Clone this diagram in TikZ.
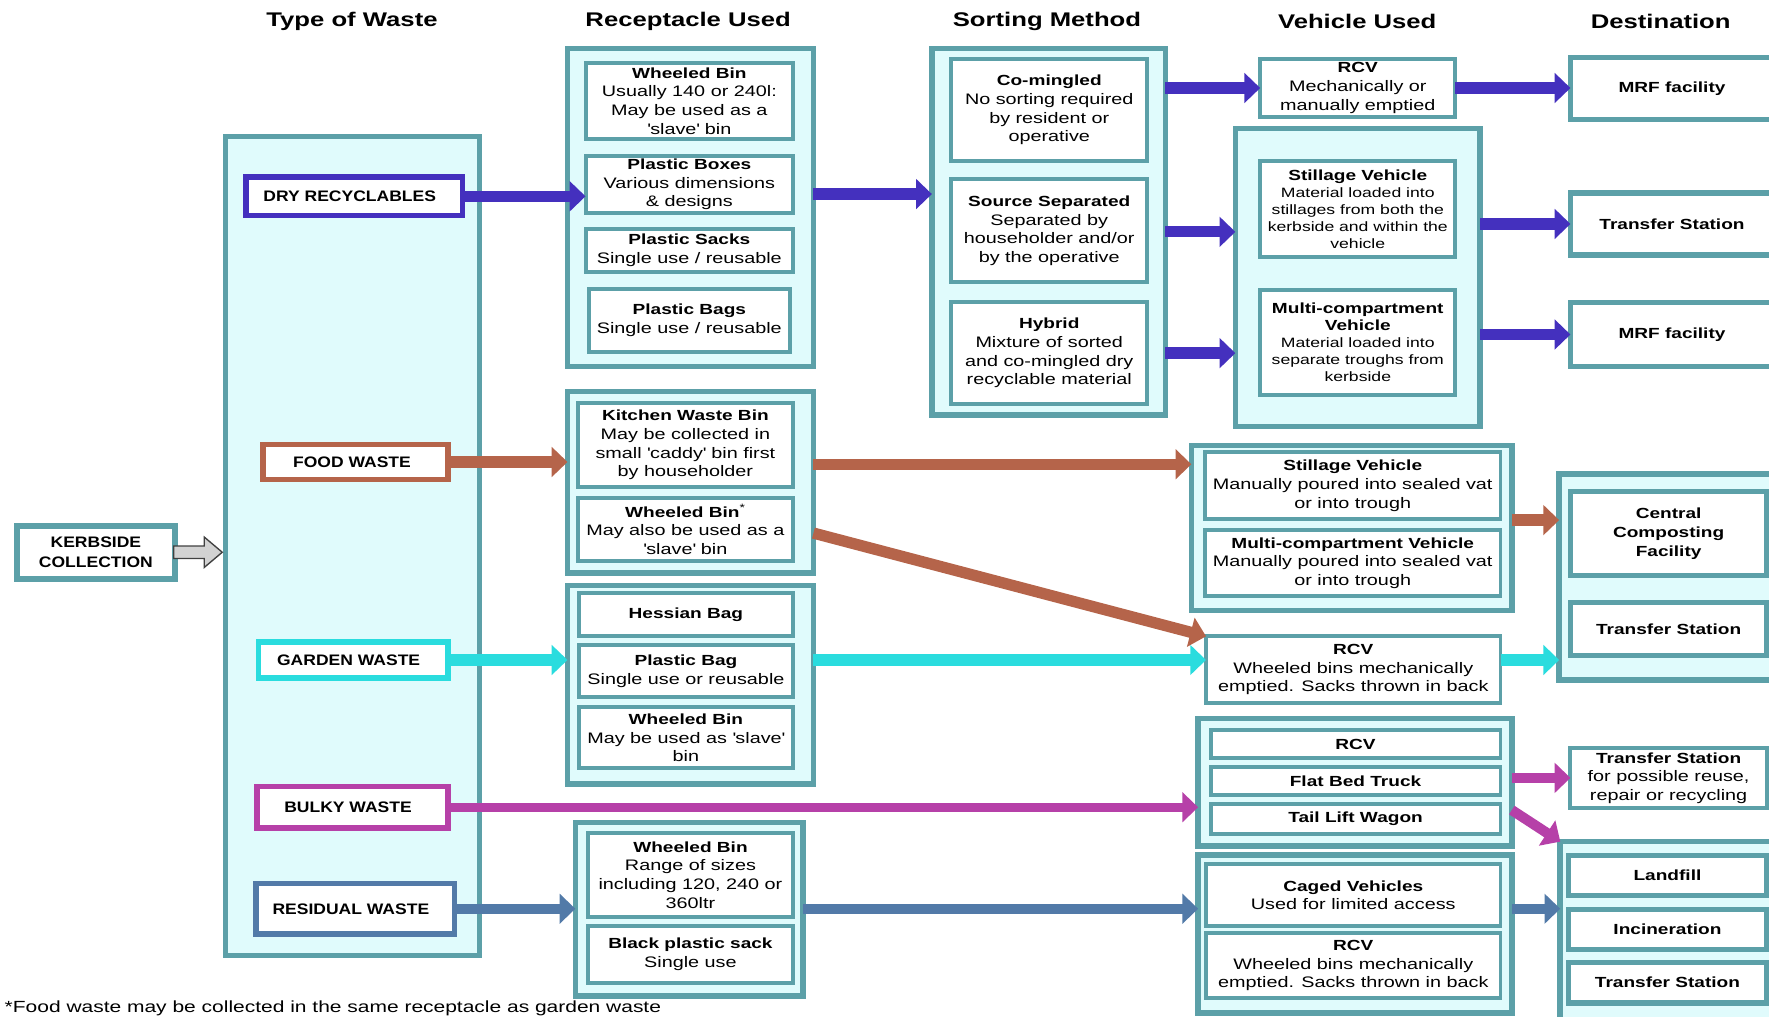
\documentclass[tikz,border=0pt]{standalone}
\usepackage{fontspec}
\setmainfont{Liberation Sans}[FakeStretch=1.3]
\newfontfamily\lblfamily{Liberation Sans}[FakeStretch=1.15]
\usetikzlibrary{arrows.meta}

\definecolor{frame}{RGB}{92,160,168}
\definecolor{panel}{RGB}{224,251,252}
\definecolor{dryc}{RGB}{68,48,190}
\definecolor{foodc}{RGB}{181,100,74}
\definecolor{gardc}{RGB}{42,220,222}
\definecolor{bulkc}{RGB}{182,64,168}
\definecolor{resc}{RGB}{82,122,168}

\newcommand{\desc}{\fontsize{13.5}{16.5}\selectfont}
\newcommand{\notefont}{\fontsize{14.3}{17}\selectfont}
\newcommand{\smalldesc}{\fontsize{12}{15}\selectfont}
\newcommand{\lbl}{\lblfamily\fontsize{13.5}{17}\selectfont\bfseries}
\newcommand{\hdr}{\fontsize{17.5}{20}\selectfont\bfseries}
\newcommand{\ttl}[1]{{\fontsize{13}{16.5}\selectfont\bfseries #1}}
\newcommand{\sq}{\textquotesingle}

% box from its corners (x1,y1)-(x2,y2), y measured downwards
\newcommand{\bx}[7]{%
  \pgfmathsetmacro\bxw{#5-#3}%
  \pgfmathsetmacro\bxh{#6-#4}%
  \pgfmathsetmacro\bxcx{(#3+#5)/2}%
  \pgfmathsetmacro\bxcy{-(#4+#6)/2}%
  \node[#1, minimum width=\bxw pt, minimum height=\bxh pt] (#2) at (\bxcx,\bxcy) {#7};}

\tikzset{
  grp/.style={draw=frame, line width=5pt, fill=panel, inner sep=0pt, outer sep=0pt},
  inbox/.style={draw=frame, line width=3.5pt, fill=white, inner sep=0pt, outer sep=0pt, align=center, font=\desc},
  dbox/.style={inbox, line width=5pt},
  wlabel/.style={line width=5pt, fill=white, inner sep=0pt, outer sep=0pt, align=center, font=\lbl},
  heading/.style={font=\hdr, inner sep=0pt},
  flow/.style={line width=10pt, -{Triangle[length=14pt,width=26pt]}},
}

\begin{document}
\begin{tikzpicture}[x=1pt,y=1pt]
\useasboundingbox (0,0) rectangle (1568,-901);
\clip (0,0) rectangle (1568,-901);

% column headings
\node[heading] (hType) at (312,-19) {Type of Waste};
\node[heading] (hRec)  at (610,-19) {Receptacle Used};
\node[heading] (hSort) at (928,-19) {Sorting Method};
\node[heading] (hVeh)  at (1203,-19) {Vehicle Used};
\node[heading] (hDest) at (1472,-19) {Destination};

% kerbside and waste types
\bx{wlabel, draw=frame}{kerb}{15}{466}{155}{513}{KERBSIDE\\COLLECTION}
\bx{grp}{types}{200}{121}{425}{847}{}
\bx{wlabel, draw=dryc}{dry}{218}{157}{410}{191}{DRY RECYCLABLES\hspace*{8pt}}
\bx{wlabel, draw=foodc}{food}{233}{394}{397}{425}{FOOD WASTE\hspace*{6pt}}
\bx{wlabel, draw=gardc}{garden}{229}{569}{397}{601}{GARDEN WASTE\hspace*{8pt}}
\bx{wlabel, draw=bulkc}{bulky}{228}{697}{397}{734}{BULKY WASTE\hspace*{8pt}}
\bx{wlabel, draw=resc}{resid}{227}{783}{403}{828}{RESIDUAL WASTE\hspace*{8pt}}

% receptacles
\bx{grp}{rg1}{503}{43}{721}{325}{}
\bx{inbox}{r1a}{519}{56}{703}{123}{\ttl{Wheeled Bin}\\Usually 140 or 240l:\\May be used as a\\\sq slave\sq{} bin}
\bx{inbox}{r1b}{519}{138}{703}{189}{\ttl{Plastic Boxes}\\Various dimensions\\\& designs}
\bx{inbox}{r1c}{519}{203}{703}{241}{\ttl{Plastic Sacks}\\Single use / reusable}
\bx{inbox}{r1d}{522}{256}{700}{312}{\ttl{Plastic Bags}\\Single use / reusable}

\bx{grp}{rg2}{503}{347}{721}{508}{}
\bx{inbox}{r2a}{512}{357}{703}{432}{\ttl{Kitchen Waste Bin}\\May be collected in\\small \sq caddy\sq{} bin first\\by householder}
\bx{inbox}{r2b}{512}{441}{703}{497}{\ttl{Wheeled Bin}\textsuperscript{*}\\May also be used as a\\\sq slave\sq{} bin}

\bx{grp}{rg3}{503}{519}{721}{695}{}
\bx{inbox}{r3a}{513}{526}{703}{564}{\ttl{Hessian Bag}}
\bx{inbox}{r3b}{513}{572}{703}{618}{\ttl{Plastic Bag}\\Single use or reusable}
\bx{inbox}{r3c}{513}{627}{703}{681}{\ttl{Wheeled Bin}\\May be used as \sq slave\sq\\bin}

\bx{grp}{rg4}{510}{729}{712}{883}{}
\bx{inbox}{r4a}{521}{738}{703}{813}{\ttl{Wheeled Bin}\\Range of sizes\\including 120, 240 or\\360ltr}
\bx{inbox}{r4b}{521}{821}{703}{871}{\ttl{Black plastic sack}\\Single use}

% sorting methods
\bx{grp}{sg}{826}{43}{1033}{368}{}
\bx{inbox}{s1}{843}{52}{1017}{143}{\ttl{Co-mingled}\\No sorting required\\by resident or\\operative}
\bx{inbox}{s2}{843}{159}{1017}{250}{\ttl{Source Separated}\\Separated by\\householder and/or\\by the operative}
\bx{inbox}{s3}{843}{268}{1017}{358}{\ttl{Hybrid}\\Mixture of sorted\\and co-mingled dry\\recyclable material}

% vehicles
\bx{inbox}{v1}{1117}{52}{1290}{104}{\ttl{RCV}\\Mechanically or\\manually emptied}
\bx{grp}{vg1}{1095}{114}{1312}{378}{}
\bx{inbox, font=\smalldesc}{v2}{1117}{143}{1290}{228}{\ttl{Stillage Vehicle}\\Material loaded into\\stillages from both the\\kerbside and within the\\vehicle}
\bx{inbox, font=\smalldesc}{v3}{1117}{257}{1290}{350}{\ttl{Multi-compartment}\\\ttl{Vehicle}\\Material loaded into\\separate troughs from\\kerbside}

\bx{grp}{vg2}{1056}{395}{1340}{541}{}
\bx{inbox}{v4}{1068}{401}{1330}{460}{\ttl{Stillage Vehicle}\\Manually poured into sealed vat\\or into trough}
\bx{inbox}{v5}{1068}{470}{1330}{528}{\ttl{Multi-compartment Vehicle}\\Manually poured into sealed vat\\or into trough}
\bx{inbox}{v6}{1069}{564}{1330}{623}{\ttl{RCV}\\Wheeled bins mechanically\\emptied. Sacks thrown in back}

\bx{grp}{vg3}{1062}{637}{1340}{750}{}
\bx{inbox}{v7}{1073}{647}{1330}{672}{\ttl{RCV}}
\bx{inbox}{v8}{1073}{680}{1330}{705}{\ttl{Flat Bed Truck}}
\bx{inbox}{v9}{1073}{713}{1330}{739}{\ttl{Tail Lift Wagon}}

\bx{grp}{vg4}{1062}{758}{1340}{898}{}
\bx{inbox}{v10}{1069}{766}{1330}{821}{\ttl{Caged Vehicles}\\Used for limited access}
\bx{inbox}{v11}{1069}{827}{1330}{885}{\ttl{RCV}\\Wheeled bins mechanically\\emptied. Sacks thrown in back}

% destinations
\bx{dbox}{d1}{1392}{51}{1572}{106}{\ttl{MRF facility}}
\bx{dbox}{d2}{1392}{171}{1572}{226}{\ttl{Transfer Station}}
\bx{dbox}{d3}{1392}{268}{1572}{325}{\ttl{MRF facility}}

\bx{grp}{dg2}{1382}{420}{1600}{603}{}
\bx{inbox, line width=4.5pt}{d4}{1392}{436}{1566}{510}{\ttl{Central}\\\ttl{Composting}\\\ttl{Facility}}
\bx{inbox, line width=4.5pt}{d5}{1392}{534}{1566}{581}{\ttl{Transfer Station}}

\bx{inbox}{d6}{1392}{663}{1566}{716}{\ttl{Transfer Station}\\for possible reuse,\\repair or recycling}

\bx{grp}{dg3}{1383}{746}{1600}{910}{}
\bx{inbox, line width=4.5pt}{d7}{1390}{758}{1566}{794}{\ttl{Landfill}}
\bx{inbox, line width=4.5pt}{d8}{1390}{806}{1566}{842}{\ttl{Incineration}}
\bx{inbox, line width=4.5pt}{d9}{1390}{853}{1566}{889}{\ttl{Transfer Station}}

% kerbside arrow into the waste types
\draw[fill=gray!35, draw=gray!50!black, line width=1.2pt]
  (kerb.east) ++(-1,5.5) -- ++(27,0) -- ++(0,8) -- ++(16,-13.5) -- ++(-16,-13.5)
  -- ++(0,8) -- ++(-27,0) -- cycle;

% dry recyclables
\draw[flow, dryc] (dry.east) -- (dry.east -| r1b.west);
\draw[flow, dryc] ([yshift=12pt]rg1.east) coordinate (a1) -- (a1 -| sg.west);
\draw[flow, dryc] (sg.east |- v1.west) -- (v1.west);
\draw[flow, dryc] (sg.east) -- (sg.east -| vg1.west);
\draw[flow, dryc] (sg.east |- s3.east) -- (s3.east -| vg1.west);
\draw[flow, dryc] (v1.east) -- (v1.east -| d1.west);
\draw[flow, dryc] (vg1.east |- d2.west) -- (d2.west);
\draw[flow, dryc] (vg1.east |- d3.west) -- (d3.west);

% food waste
\draw[flow, foodc] (food.east) -- (food.east -| rg2.west);
\draw[flow, foodc] ([yshift=16pt]rg2.east) coordinate (a2) -- (a2 -| vg2.west);
\draw[flow, foodc] ([yshift=-45pt]rg2.east) -- (v6.north west);
\draw[flow, foodc] ([yshift=7pt]vg2.east) coordinate (a3) -- (a3 -| dg2.west);

% garden waste
\draw[flow, gardc] (garden.east) -- (garden.east -| rg3.west);
\draw[flow, gardc] (rg3.east |- garden.east) -- (v6.west |- garden.east);
\draw[flow, gardc] (v6.east |- garden.east) -- (dg2.west |- garden.east);

% bulky waste
\draw[flow, bulkc, line width=8pt] (bulky.east) -- (vg3.west |- bulky.east);
\draw[flow, bulkc, line width=9pt] (vg3.east |- d6.west) -- (d6.west);
\draw[flow, bulkc, line width=9pt] ([yshift=-24.5pt]vg3.east) -- (dg3.north west);

% residual waste
\draw[flow, resc, line width=9pt] (resid.east) -- (resid.east -| rg4.west);
\draw[flow, resc, line width=9pt] (rg4.east |- resid.east) -- (vg4.west |- resid.east);
\draw[flow, resc, line width=9pt] (vg4.east |- resid.east) -- (dg3.west |- resid.east);

% footnote
\node[anchor=west, inner sep=0pt, font=\notefont] (note) at (4,-894)
  {*Food waste may be collected in the same receptacle as garden waste};
\end{tikzpicture}
\end{document}
